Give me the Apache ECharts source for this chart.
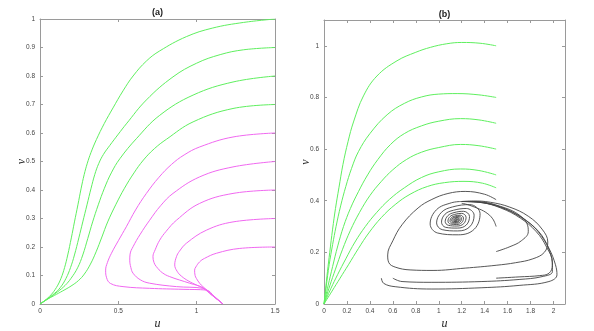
<!DOCTYPE html>
<html><head><meta charset="utf-8">
<script src="https://cdn.jsdelivr.net/npm/echarts@6/dist/echarts.min.js"></script>
<style>html,body{margin:0;padding:0;background:#fff}#c{width:594px;height:331px}</style>
</head><body><div id="c"></div><script>
// ---------- Panel (a) data: [u, v] ----------
const aGreen1 = [[0,0],[0.03,0.012],[0.07,0.032],[0.105,0.058],[0.134,0.09],[0.157,0.128],[0.177,0.172],[0.2,0.232],[0.22,0.288],[0.242,0.348],[0.262,0.404],[0.282,0.454],[0.302,0.494],[0.325,0.531],[0.36,0.577],[0.41,0.633],[0.466,0.688],[0.53,0.748],[0.594,0.8],[0.68,0.853],[0.764,0.888],[0.934,0.938],[1.1,0.968],[1.3,0.988],[1.5,1.0]];
const aGreen2 = [[0,0],[0.04,0.015],[0.092,0.037],[0.13,0.058],[0.166,0.09],[0.195,0.128],[0.22,0.172],[0.248,0.232],[0.273,0.288],[0.3,0.348],[0.326,0.406],[0.35,0.455],[0.375,0.493],[0.405,0.525],[0.445,0.556],[0.5,0.596],[0.551,0.632],[0.679,0.716],[0.849,0.797],[1.0,0.845],[1.15,0.875],[1.3,0.892],[1.5,0.9]];
const aGreen3 = [[0,0],[0.05,0.018],[0.113,0.043],[0.16,0.065],[0.198,0.09],[0.24,0.127],[0.273,0.172],[0.305,0.23],[0.336,0.288],[0.372,0.348],[0.411,0.406],[0.455,0.46],[0.51,0.51],[0.615,0.58],[0.764,0.662],[0.977,0.733],[1.232,0.779],[1.5,0.8]];
const aGreen4 = [[0,0],[0.045,0.016],[0.092,0.03],[0.145,0.046],[0.198,0.063],[0.245,0.082],[0.283,0.105],[0.322,0.14],[0.358,0.183],[0.395,0.235],[0.432,0.288],[0.485,0.35],[0.539,0.406],[0.6,0.46],[0.66,0.505],[0.73,0.545],[0.807,0.578],[0.977,0.639],[1.232,0.686],[1.5,0.7]];
const aMag1 = [[1.5,0.6],[1.232,0.586],[1.019,0.551],[0.92,0.523],[0.84,0.49],[0.76,0.445],[0.679,0.388],[0.61,0.33],[0.551,0.271],[0.5,0.222],[0.456,0.178],[0.43,0.145],[0.419,0.119],[0.425,0.092],[0.45,0.072],[0.53,0.061],[0.70,0.055],[0.913,0.0515],[1.062,0.049],[1.11,0.028],[1.168,0]];
const aMag2 = [[1.5,0.5],[1.232,0.481],[1.019,0.446],[0.849,0.388],[0.77,0.345],[0.70,0.294],[0.64,0.245],[0.594,0.201],[0.575,0.175],[0.573,0.154],[0.58,0.128],[0.594,0.108],[0.64,0.085],[0.70,0.073],[0.871,0.061],[1.04,0.055],[1.1,0.03],[1.168,0]];
const aMag3 = [[1.5,0.4],[1.232,0.388],[1.019,0.353],[0.871,0.294],[0.805,0.255],[0.764,0.224],[0.735,0.19],[0.721,0.166],[0.728,0.145],[0.743,0.131],[0.78,0.11],[0.828,0.096],[0.955,0.073],[1.04,0.057],[1.1,0.03],[1.168,0]];
const aMag4 = [[1.5,0.3],[1.232,0.288],[1.062,0.259],[0.934,0.213],[0.89,0.185],[0.871,0.166],[0.86,0.137],[0.875,0.115],[0.902,0.098],[0.95,0.08],[0.998,0.067],[1.04,0.056],[1.1,0.03],[1.168,0]];
const aMag5 = [[1.5,0.2],[1.275,0.195],[1.126,0.178],[1.05,0.16],[1.019,0.148],[0.995,0.13],[0.987,0.119],[0.99,0.1],[0.998,0.09],[1.02,0.072],[1.04,0.061],[1.1,0.032],[1.168,0]];

// ---------- Panel (b) data: [u, v] ----------
const bGreen1 = [[0,0],[0.012,0.05],[0.03,0.125],[0.05,0.2],[0.075,0.29],[0.1,0.37],[0.13,0.45],[0.165,0.54],[0.21,0.63],[0.257,0.705],[0.344,0.806],[0.461,0.883],[0.636,0.942],[0.8,0.975],[0.927,0.994],[1.07,1.008],[1.2,1.013],[1.36,1.01],[1.5,1.0]];
const bGreen2 = [[0,0],[0.02,0.07],[0.045,0.152],[0.075,0.23],[0.105,0.3],[0.145,0.38],[0.19,0.455],[0.24,0.525],[0.3,0.59],[0.4,0.66],[0.55,0.733],[0.7,0.777],[0.85,0.802],[1.0,0.813],[1.16,0.815],[1.35,0.81],[1.5,0.8]];
const bGreen3 = [[0,0],[0.035,0.07],[0.075,0.145],[0.12,0.225],[0.17,0.3],[0.23,0.37],[0.3,0.435],[0.38,0.5],[0.47,0.56],[0.58,0.618],[0.7,0.66],[0.85,0.69],[1.0,0.708],[1.19,0.718],[1.35,0.713],[1.5,0.7]];
const bGreen4 = [[0,0],[0.05,0.07],[0.1,0.135],[0.16,0.21],[0.23,0.285],[0.31,0.355],[0.4,0.42],[0.5,0.475],[0.6,0.52],[0.72,0.56],[0.85,0.588],[1.0,0.606],[1.19,0.618],[1.35,0.613],[1.5,0.6]];
const bGreen5 = [[0,0],[0.06,0.06],[0.12,0.115],[0.19,0.175],[0.27,0.24],[0.36,0.3],[0.46,0.355],[0.57,0.405],[0.7,0.45],[0.85,0.49],[1.0,0.512],[1.19,0.523],[1.35,0.517],[1.5,0.5]];
const bGreen6 = [[0,0],[0.07,0.05],[0.14,0.1],[0.213,0.152],[0.3,0.215],[0.39,0.275],[0.5,0.335],[0.62,0.385],[0.75,0.425],[0.9,0.455],[1.05,0.47],[1.22,0.475],[1.38,0.468],[1.5,0.45]];
const bBlack1 = [[1.5,0.404],[1.4,0.425],[1.23,0.436],[1.08,0.428],[0.94,0.405],[0.82,0.372],[0.68,0.307],[0.6,0.245],[0.555,0.19],[0.565,0.16],[0.62,0.143],[0.75,0.132],[0.95,0.13],[1.23,0.139],[1.5,0.15],[1.67,0.16],[1.82,0.175],[1.92,0.2],[1.95,0.24],[1.9,0.29],[1.78,0.34],[1.62,0.375],[1.45,0.394],[1.3,0.399],[1.2,0.397]];
const bBlack2 = [[1.5,0.3],[1.47,0.33],[1.41,0.355],[1.33,0.372],[1.25,0.385],[1.2,0.39]];
const bBlack3 = [[1.5,0.203],[1.62,0.222],[1.72,0.245],[1.78,0.28],[1.77,0.31],[1.7,0.345],[1.58,0.372],[1.42,0.39],[1.3,0.397],[1.2,0.397]];
const bBlack4 = [[1.5,0.1],[1.7,0.105],[1.88,0.11],[1.96,0.119],[1.99,0.15],[1.97,0.2],[1.9,0.26],[1.8,0.31],[1.66,0.352],[1.5,0.38],[1.35,0.394],[1.2,0.397]];
const bBlack5 = [[0.5,0.1],[0.52,0.08],[0.62,0.067],[0.94,0.058],[1.376,0.063],[1.7,0.072],[1.96,0.087],[2.03,0.113],[2.017,0.152],[1.96,0.216],[1.87,0.281],[1.726,0.333],[1.55,0.374],[1.376,0.395],[1.2,0.397]];
const bBlack6 = [[0.6,0.1],[0.68,0.087],[0.94,0.084],[1.376,0.087],[1.7,0.095],[1.9,0.106],[1.99,0.125],[1.99,0.16],[1.94,0.22],[1.85,0.28],[1.71,0.333],[1.54,0.372],[1.37,0.393],[1.2,0.397]];
const bSpiral = [[1.2,0.397],[1.11,0.392],[0.98,0.365],[0.925,0.31],[0.99,0.275],[1.17,0.268],[1.31,0.29],[1.36,0.35],[1.27,0.385],
 [1.12,0.376],[1.023,0.355],[0.981,0.314],[1.03,0.288],[1.165,0.283],[1.27,0.299],[1.308,0.344],[1.24,0.37],
 [1.128,0.363],[1.055,0.348],[1.024,0.317],[1.06,0.297],[1.161,0.294],[1.24,0.306],[1.268,0.339],[1.217,0.359],
 [1.133,0.354],[1.079,0.342],[1.056,0.319],[1.083,0.305],[1.158,0.302],[1.217,0.311],[1.238,0.336],[1.2,0.351],
 [1.138,0.347],[1.097,0.338],[1.08,0.321],[1.1,0.31],[1.156,0.308],[1.2,0.315],[1.215,0.333],[1.187,0.344],
 [1.141,0.341],[1.111,0.335],[1.098,0.322],[1.113,0.314],[1.155,0.313],[1.187,0.318],[1.198,0.332],[1.178,0.34],
 [1.143,0.337],[1.121,0.333],[1.112,0.323],[1.123,0.317],[1.153,0.316],[1.177,0.32],[1.186,0.33],[1.17,0.336],
 [1.145,0.334],[1.13,0.331],[1.123,0.324],[1.131,0.32],[1.152,0.319],[1.169,0.322],[1.175,0.329],[1.164,0.333],
 [1.147,0.331],[1.132,0.325],[1.152,0.321],[1.167,0.328],[1.148,0.329],[1.14,0.325],[1.152,0.323],[1.16,0.327],[1.15,0.326]];

const GREEN = '#5fef5f', MAG = '#f068f0', BLACK = '#444';
const chart = echarts.init(document.getElementById('c'), null, {renderer:'canvas'});
const axisCol = '#9a9a9a';
const nameStyle = {fontFamily:'Liberation Serif', fontStyle:'italic', fontSize:12, color:'#222'};
function xAx(grid, max, interval, pos, name) {
  return {gridIndex:grid, type:'value', min:0, max:max, interval:interval, position:pos,
    name: name || '', nameLocation:'middle', nameGap:14, nameMoveOverlap:false, nameTextStyle:nameStyle,
    axisLine:{onZero:false, lineStyle:{color:axisCol, width:1}},
    axisTick:{inside:true, length:3, lineStyle:{color:axisCol}},
    axisLabel:{show: pos==='bottom', fontSize:6.5, color:'#444', margin:4, fontFamily:'Liberation Sans', showMaxLabel: max===1.5},
    splitLine:{show:false}};
}
function yAx(grid, max, interval, pos, name) {
  return {gridIndex:grid, type:'value', min:0, max:max, interval:interval, position:pos,
    name: name || '', nameLocation:'middle', nameGap:12, nameRotate:90, nameMoveOverlap:false, nameTextStyle:nameStyle,
    axisLine:{onZero:false, lineStyle:{color:axisCol, width:1}},
    axisTick:{inside:true, length:3, lineStyle:{color:axisCol}},
    axisLabel:{show: pos==='left', fontSize:6.5, color:'#444', margin:5, fontFamily:'Liberation Sans', showMaxLabel: max===1},
    splitLine:{show:false}};
}
function ln(data, color, xi, yi, w) {
  return {type:'line', data:data, xAxisIndex:xi, yAxisIndex:yi, showSymbol:false, smooth:0.4,
    lineStyle:{color:color, width:w||1}, silent:true, animation:false, z:2};
}
const series = [];
[aGreen1,aGreen2,aGreen3,aGreen4].forEach(d=>series.push(ln(d,GREEN,0,0)));
[aMag1,aMag2,aMag3,aMag4,aMag5].forEach(d=>series.push(ln(d,MAG,0,0)));
[bGreen1,bGreen2,bGreen3,bGreen4,bGreen5,bGreen6].forEach(d=>series.push(ln(d,GREEN,2,2)));
[bBlack1,bBlack2,bBlack3,bBlack4,bBlack5,bBlack6,bSpiral].forEach(d=>series.push(ln(d,BLACK,2,2,0.9)));

chart.setOption({
  animation:false,
  backgroundColor:'#fff',
  title:[
    {text:'(a)', left:157.5, top:8, padding:0, textAlign:'center', textStyle:{fontSize:9, fontWeight:'bold', color:'#222', fontFamily:'Liberation Sans'}},
    {text:'(b)', left:444.5, top:10, padding:0, textAlign:'center', textStyle:{fontSize:9, fontWeight:'bold', color:'#222', fontFamily:'Liberation Sans'}}
  ],
  grid:[
    {left:40, top:19, width:235, height:285, containLabel:false, outerBoundsMode:'none'},
    {left:324, top:20, width:241, height:284, containLabel:false, outerBoundsMode:'none'}
  ],
  xAxis:[xAx(0,1.5,0.5,'bottom','u'), xAx(0,1.5,0.5,'top'), xAx(1,2.1,0.2,'bottom','u'), xAx(1,2.1,0.2,'top')],
  yAxis:[yAx(0,1,0.1,'left','v'), yAx(0,1,0.1,'right'), yAx(1,1.1,0.2,'left','v'), yAx(1,1.1,0.2,'right')],
  series:series
});
</script></body></html>
